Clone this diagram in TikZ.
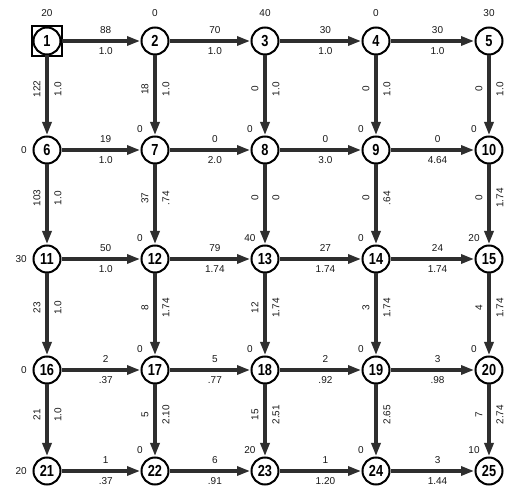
\documentclass[tikz,border=0pt]{standalone}
\usepackage{fontspec}
\setmainfont{Liberation Sans}
\newfontfamily\numfont{Liberation Sans}[FakeStretch=0.8]
\usetikzlibrary{arrows.meta,calc}
\tikzset{
  vtx/.style={circle,draw=black,line width=2pt,minimum size=27pt,inner sep=0pt,fill=white,
    font=\numfont\bfseries\fontsize{16}{16}\selectfont},
  flow/.style={draw=black!82,line width=3.1pt,-{Triangle[length=13pt,width=9pt]},shorten >=0.5pt},
  lab/.style={inner sep=0pt,font=\fontsize{10}{10}\selectfont,text=black!90},
  hup/.style={lab,pos=.56,yshift=11pt},
  hdn/.style={lab,pos=.56,yshift=-10pt},
  vl/.style={lab,pos=.42,xshift=-10pt,rotate=90},
  vr/.style={lab,pos=.42,xshift=11pt,rotate=90}
}
\newcommand\hed[4]{\draw[flow] (n#1) -- node[hup]{#3} node[hdn]{#4} (n#2);}
\newcommand\ved[4]{\draw[flow] (n#1) -- node[vl]{#3} node[vr]{#4} (n#2);}
\begin{document}
\begin{tikzpicture}[x=1pt,y=-1pt]
\useasboundingbox[fill=white] (0,0) rectangle (512,494);
\foreach \r/\y in {0/41,1/150,2/259,3/370,4/471}{
  \foreach \c/\x in {0/47,1/155,2/265,3/376,4/489}{
    \pgfmathtruncatemacro\k{\r*5+\c+1}
    \node[vtx] (n\k) at (\x,\y) {\k};
  }
}
\draw[line width=1.8pt] ($(n1)+(-15,-15)$) rectangle ($(n1)+(15,15)$);
% horizontal edges
\hed{1}{2}{88}{1.0}
\hed{2}{3}{70}{1.0}
\hed{3}{4}{30}{1.0}
\hed{4}{5}{30}{1.0}
\hed{6}{7}{19}{1.0}
\hed{7}{8}{0}{2.0}
\hed{8}{9}{0}{3.0}
\hed{9}{10}{0}{4.64}
\hed{11}{12}{50}{1.0}
\hed{12}{13}{79}{1.74}
\hed{13}{14}{27}{1.74}
\hed{14}{15}{24}{1.74}
\hed{16}{17}{2}{.37}
\hed{17}{18}{5}{.77}
\hed{18}{19}{2}{.92}
\hed{19}{20}{3}{.98}
\hed{21}{22}{1}{.37}
\hed{22}{23}{6}{.91}
\hed{23}{24}{1}{1.20}
\hed{24}{25}{3}{1.44}
% vertical edges
\ved{1}{6}{122}{1.0}
\ved{2}{7}{18}{1.0}
\ved{3}{8}{0}{1.0}
\ved{4}{9}{0}{1.0}
\ved{5}{10}{0}{1.0}
\ved{6}{11}{103}{1.0}
\ved{7}{12}{37}{.74}
\ved{8}{13}{0}{0}
\ved{9}{14}{0}{.64}
\ved{10}{15}{0}{1.74}
\ved{11}{16}{23}{1.0}
\ved{12}{17}{8}{1.74}
\ved{13}{18}{12}{1.74}
\ved{14}{19}{3}{1.74}
\ved{15}{20}{4}{1.74}
\ved{16}{21}{21}{1.0}
\ved{17}{22}{5}{2.10}
\ved{18}{23}{15}{2.51}
\ved{19}{24}{}{2.65}
\ved{20}{25}{7}{2.74}
% supplies
\foreach \k/\v in {1/20,2/0,3/40,4/0,5/30}{
  \node[lab] (s\k) at ($(n\k)+(0,-28)$) {\v};
}
\foreach \k/\v in {6/0,11/30,16/0,21/20}{
  \node[lab,anchor=east] (s\k) at ($(n\k)+(-20,0)$) {\v};
}
\foreach \k/\v in {7/0,8/0,9/0,10/0,12/0,13/40,14/0,15/20,17/0,18/0,19/0,20/0,22/0,23/20,24/0,25/10}{
  \node[lab] (s\k) at ($(n\k)+(-15,-21)$) {\v};
}
\end{tikzpicture}
\end{document}
